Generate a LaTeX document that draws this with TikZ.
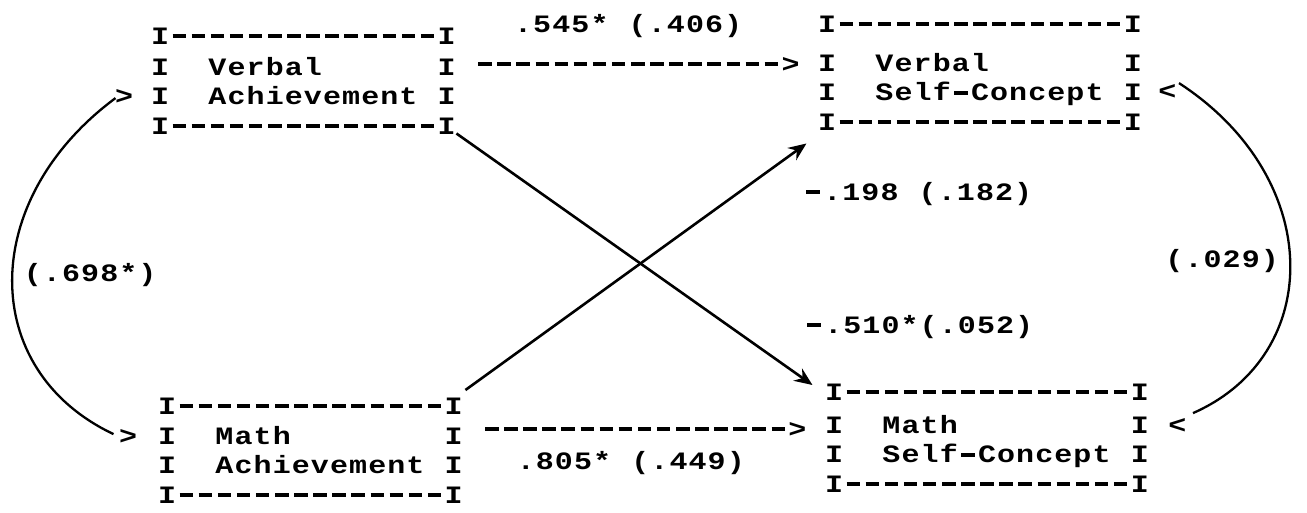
\documentclass[tikz,border=0pt]{standalone}
\usepackage{fontspec}
\newfontfamily\twfont[FakeStretch=1.2]{Liberation Mono}
\usetikzlibrary{arrows.meta,calc}
\newlength\cw
\setlength\cw{19.1pt}
\ExplSyntaxOn
\NewDocumentCommand\tw{m}{\strut\tl_map_inline:nn{#1}{
  \str_if_eq:nnTF{##1}{_}{\hbox_to_wd:nn{\cw}{}}{
  \str_if_eq:nnTF{##1}{-}{\hbox_to_wd:nn{\cw}{\hfil\rule[6.4pt]{13.5pt}{3.6pt}\hfil}}{
  \hbox_to_wd:nn{\cw}{\hfil##1\hfil}}}}}
\ExplSyntaxOff
\newcommand\boxfont{\fontsize{25}{29.5}\twfont\bfseries}
\begin{document}
\begin{tikzpicture}[x=1pt,y=-1pt,
  tbox/.style={inner sep=0pt,align=left,font=\boxfont,anchor=north west},
  lbl/.style={inner sep=0pt,font=\boxfont,anchor=base west},
  curve/.style={line width=2.3pt},
  diag/.style={line width=2.6pt,-{Stealth[length=18pt,width=15pt,inset=6pt]}}]
\useasboundingbox (0,0) rectangle (1307,512);
% boxes
\node[tbox] (VA) at (150.45,23.6) {\tw{I--------------I}\\[1.5pt]\tw{I__Verbal______I}\\\tw{I__Achievement_I}\\\tw{I--------------I}};
\node[tbox] (MA) at (157.45,393.6) {\tw{I--------------I}\\[0.5pt]\tw{I__Math________I}\\\tw{I__Achievement_I}\\\tw{I--------------I}};
\node[tbox] (VSC) at (817.45,11.6) {\tw{I---------------I}\\[9.5pt]\tw{I__Verbal_______I}\\\tw{I__Self-Concept_I}\\\tw{I---------------I}};
\node[tbox] (MSC) at (824.45,379.6) {\tw{I---------------I}\\[3.5pt]\tw{I__Math_________I}\\\tw{I__Self-Concept_I}\\\tw{I---------------I}};
% typed arrows
\node[lbl] (arrV) at (475.2,72) {\tw{---------------->}};
\node[lbl] (arrM) at (482,437) {\tw{---------------->}};
% typed arrow heads of the curves
\node[lbl] (gtVA) at (114.5,104) {\tw{>}};
\node[lbl] (gtMA) at (118.5,444) {\tw{>}};
\node[lbl] (ltVSC) at (1157.5,99) {\tw{<}};
\node[lbl] (ltMSC) at (1167.5,433) {\tw{<}};
% labels
\node[lbl] (l545) at (513.4,32) {\tw{.545*_(.406)}};
\node[lbl] (l805) at (516,469) {\tw{.805*_(.449)}};
\node[lbl] (l198) at (803.4,200) {\tw{-.198_(.182)}};
\node[lbl] (l510) at (804.4,333) {\tw{-.510*(.052)}};
\node[lbl] (l029) at (1164.7,267) {\tw{(.029)}};
\node[lbl] (l698) at (23.15,281) {\tw{(.698*)}};
% curves
\draw[curve] ([shift={(1,0)}]gtVA.west) .. controls (-22,200) and (-22,370) .. ([shift={(-5,-4)}]gtMA.west);
\draw[curve] ([shift={(2,-10)}]ltVSC.east) .. controls (1325,178) and (1325,355) .. ([shift={(6,-14)}]ltMSC.east);
% diagonals
\draw[diag] ([shift={(0,-10)}]VA.south east) -- ([shift={(-12,5.4)}]MSC.north west);
\draw[diag] ([shift={(2,-3.6)}]MA.north east) -- ([shift={(-11,4)}]VSC.south west);
\end{tikzpicture}
\end{document}
